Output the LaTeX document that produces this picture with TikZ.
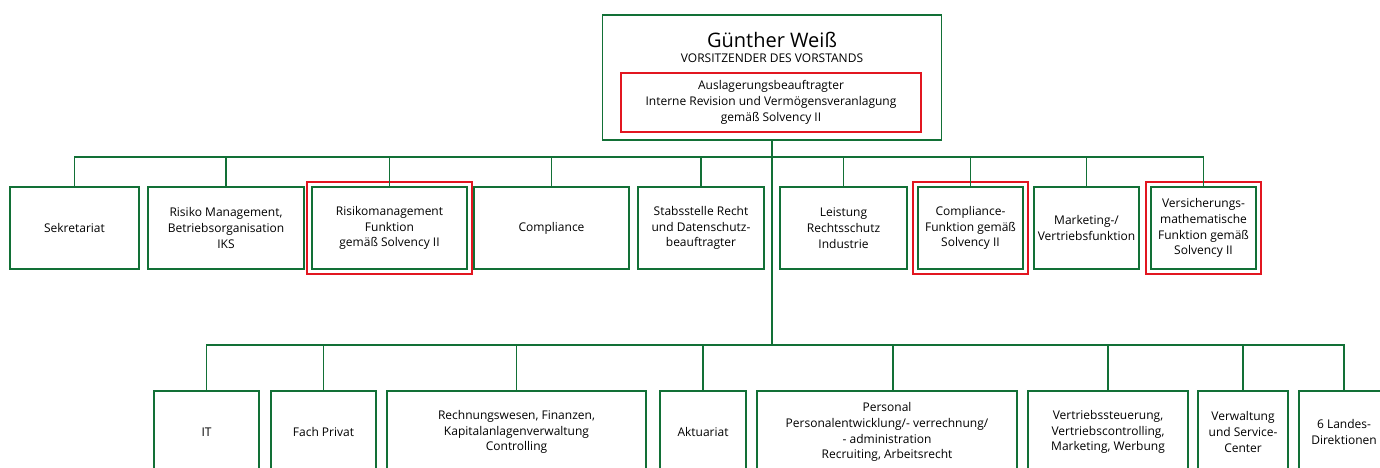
\documentclass[tikz,border=0pt]{standalone}
\usepackage{fontspec}
\setmainfont{Open Sans}
\usetikzlibrary{positioning,fit}
\definecolor{orggreen}{RGB}{18,112,54}
\definecolor{orgred}{RGB}{226,22,32}

\tikzset{
  unit/.style={draw=orggreen,line width=1.8pt,minimum height=82pt,align=center,inner sep=1pt,font=\fontsize{12}{15.8}\selectfont},
  sol/.style={draw=orgred,line width=1.6pt,inner sep=4pt},
  link/.style={draw=orggreen,line width=1.7pt},
}

\begin{document}
\begin{tikzpicture}[x=1pt,y=-1pt]
\useasboundingbox (0,0) rectangle (1380,468);
% Vorstand
\node[unit,minimum width=339pt,minimum height=125pt] (chef) at (772,77.5) {};
\node[font=\fontsize{20}{22}\selectfont] (name) at (772,40) {Günther Weiß};
\node[font=\fontsize{12}{12}\selectfont] (role) at (772,58) {VORSITZENDER DES VORSTANDS};
\node[draw=orgred,line width=1.6pt,minimum width=300pt,minimum height=59pt,align=center,font=\fontsize{12}{15.8}\selectfont] (ausl) at (771,102.5) {Auslagerungsbeauftragter\\Interne Revision und Vermögensveranlagung\\gemäß Solvency II};
\coordinate (hub1) at (772,157);
\coordinate (hub2) at (772,345);
% Stabsstellen
\node[unit,minimum width=129pt] (sek) at (74.5,228) {Sekretariat};
\node[unit,minimum width=156pt] (risk) at (226,228) {Risiko Management,\\Betriebsorganisation\\IKS};
\node[unit,minimum width=155pt] (rmf) at (389.5,228) {Risikomanagement\\Funktion\\gemäß Solvency II};
\node[unit,minimum width=155pt] (comp) at (551.5,228) {Compliance};
\node[unit,minimum width=126pt] (recht) at (701,228) {Stabsstelle Recht\\und Datenschutz-\\beauftragter};
\node[unit,minimum width=127pt] (leist) at (843.5,228) {Leistung\\Rechtsschutz\\Industrie};
\node[unit,minimum width=105pt] (cf) at (970.5,228) {Compliance-\\Funktion gemäß\\Solvency II};
\node[unit,minimum width=105pt] (mkt) at (1086.5,228) {Marketing-/\\Vertriebsfunktion};
\node[unit,minimum width=105pt] (vmf) at (1203.5,228) {Versicherungs-\\mathematische\\Funktion gemäß\\Solvency II};
\node[sol,fit=(rmf)] (rmf-sol) {};
\node[sol,fit=(cf)] (cf-sol) {};
\node[sol,fit=(vmf)] (vmf-sol) {};
% Bereiche
\node[unit,minimum width=105pt] (it) at (206.5,432) {IT};
\node[unit,minimum width=105pt] (fach) at (323.5,432) {Fach Privat};
\node[unit,minimum width=259pt] (rw) at (516.5,432) {Rechnungswesen, Finanzen,\\Kapitalanlagenverwaltung\\Controlling};
\node[unit,minimum width=86pt] (akt) at (703,432) {Aktuariat};
\node[unit,minimum width=260pt] (pers) at (887,432) {Personal\\Personalentwicklung/- verrechnung/\\- administration\\Recruiting, Arbeitsrecht};
\node[unit,minimum width=160pt] (vst) at (1108,432) {Vertriebssteuerung,\\Vertriebscontrolling,\\Marketing, Werbung};
\node[unit,minimum width=90pt] (verw) at (1243,432) {Verwaltung\\und Service-\\Center};
\node[unit,minimum width=90pt] (ld) at (1344,432) {6 Landes-\\Direktionen};
% Linien
\draw[link] (chef) -- (hub2);
\draw[link] (sek.north) |- (hub1);
\draw[link] (risk.north) |- (hub1);
\draw[link] (rmf.north) |- (hub1);
\draw[link] (comp.north) |- (hub1);
\draw[link] (recht.north) |- (hub1);
\draw[link] (leist.north) |- (hub1);
\draw[link] (cf.north) |- (hub1);
\draw[link] (mkt.north) |- (hub1);
\draw[link] (vmf.north) |- (hub1);
\draw[link] (it.north) |- (hub2);
\draw[link] (fach.north) |- (hub2);
\draw[link] (rw.north) |- (hub2);
\draw[link] (akt.north) |- (hub2);
\draw[link] ([xshift=6pt]pers.north) |- (hub2);
\draw[link] (vst.north) |- (hub2);
\draw[link] (verw.north) |- (hub2);
\draw[link] (ld.north) |- (hub2);
\end{tikzpicture}
\end{document}
